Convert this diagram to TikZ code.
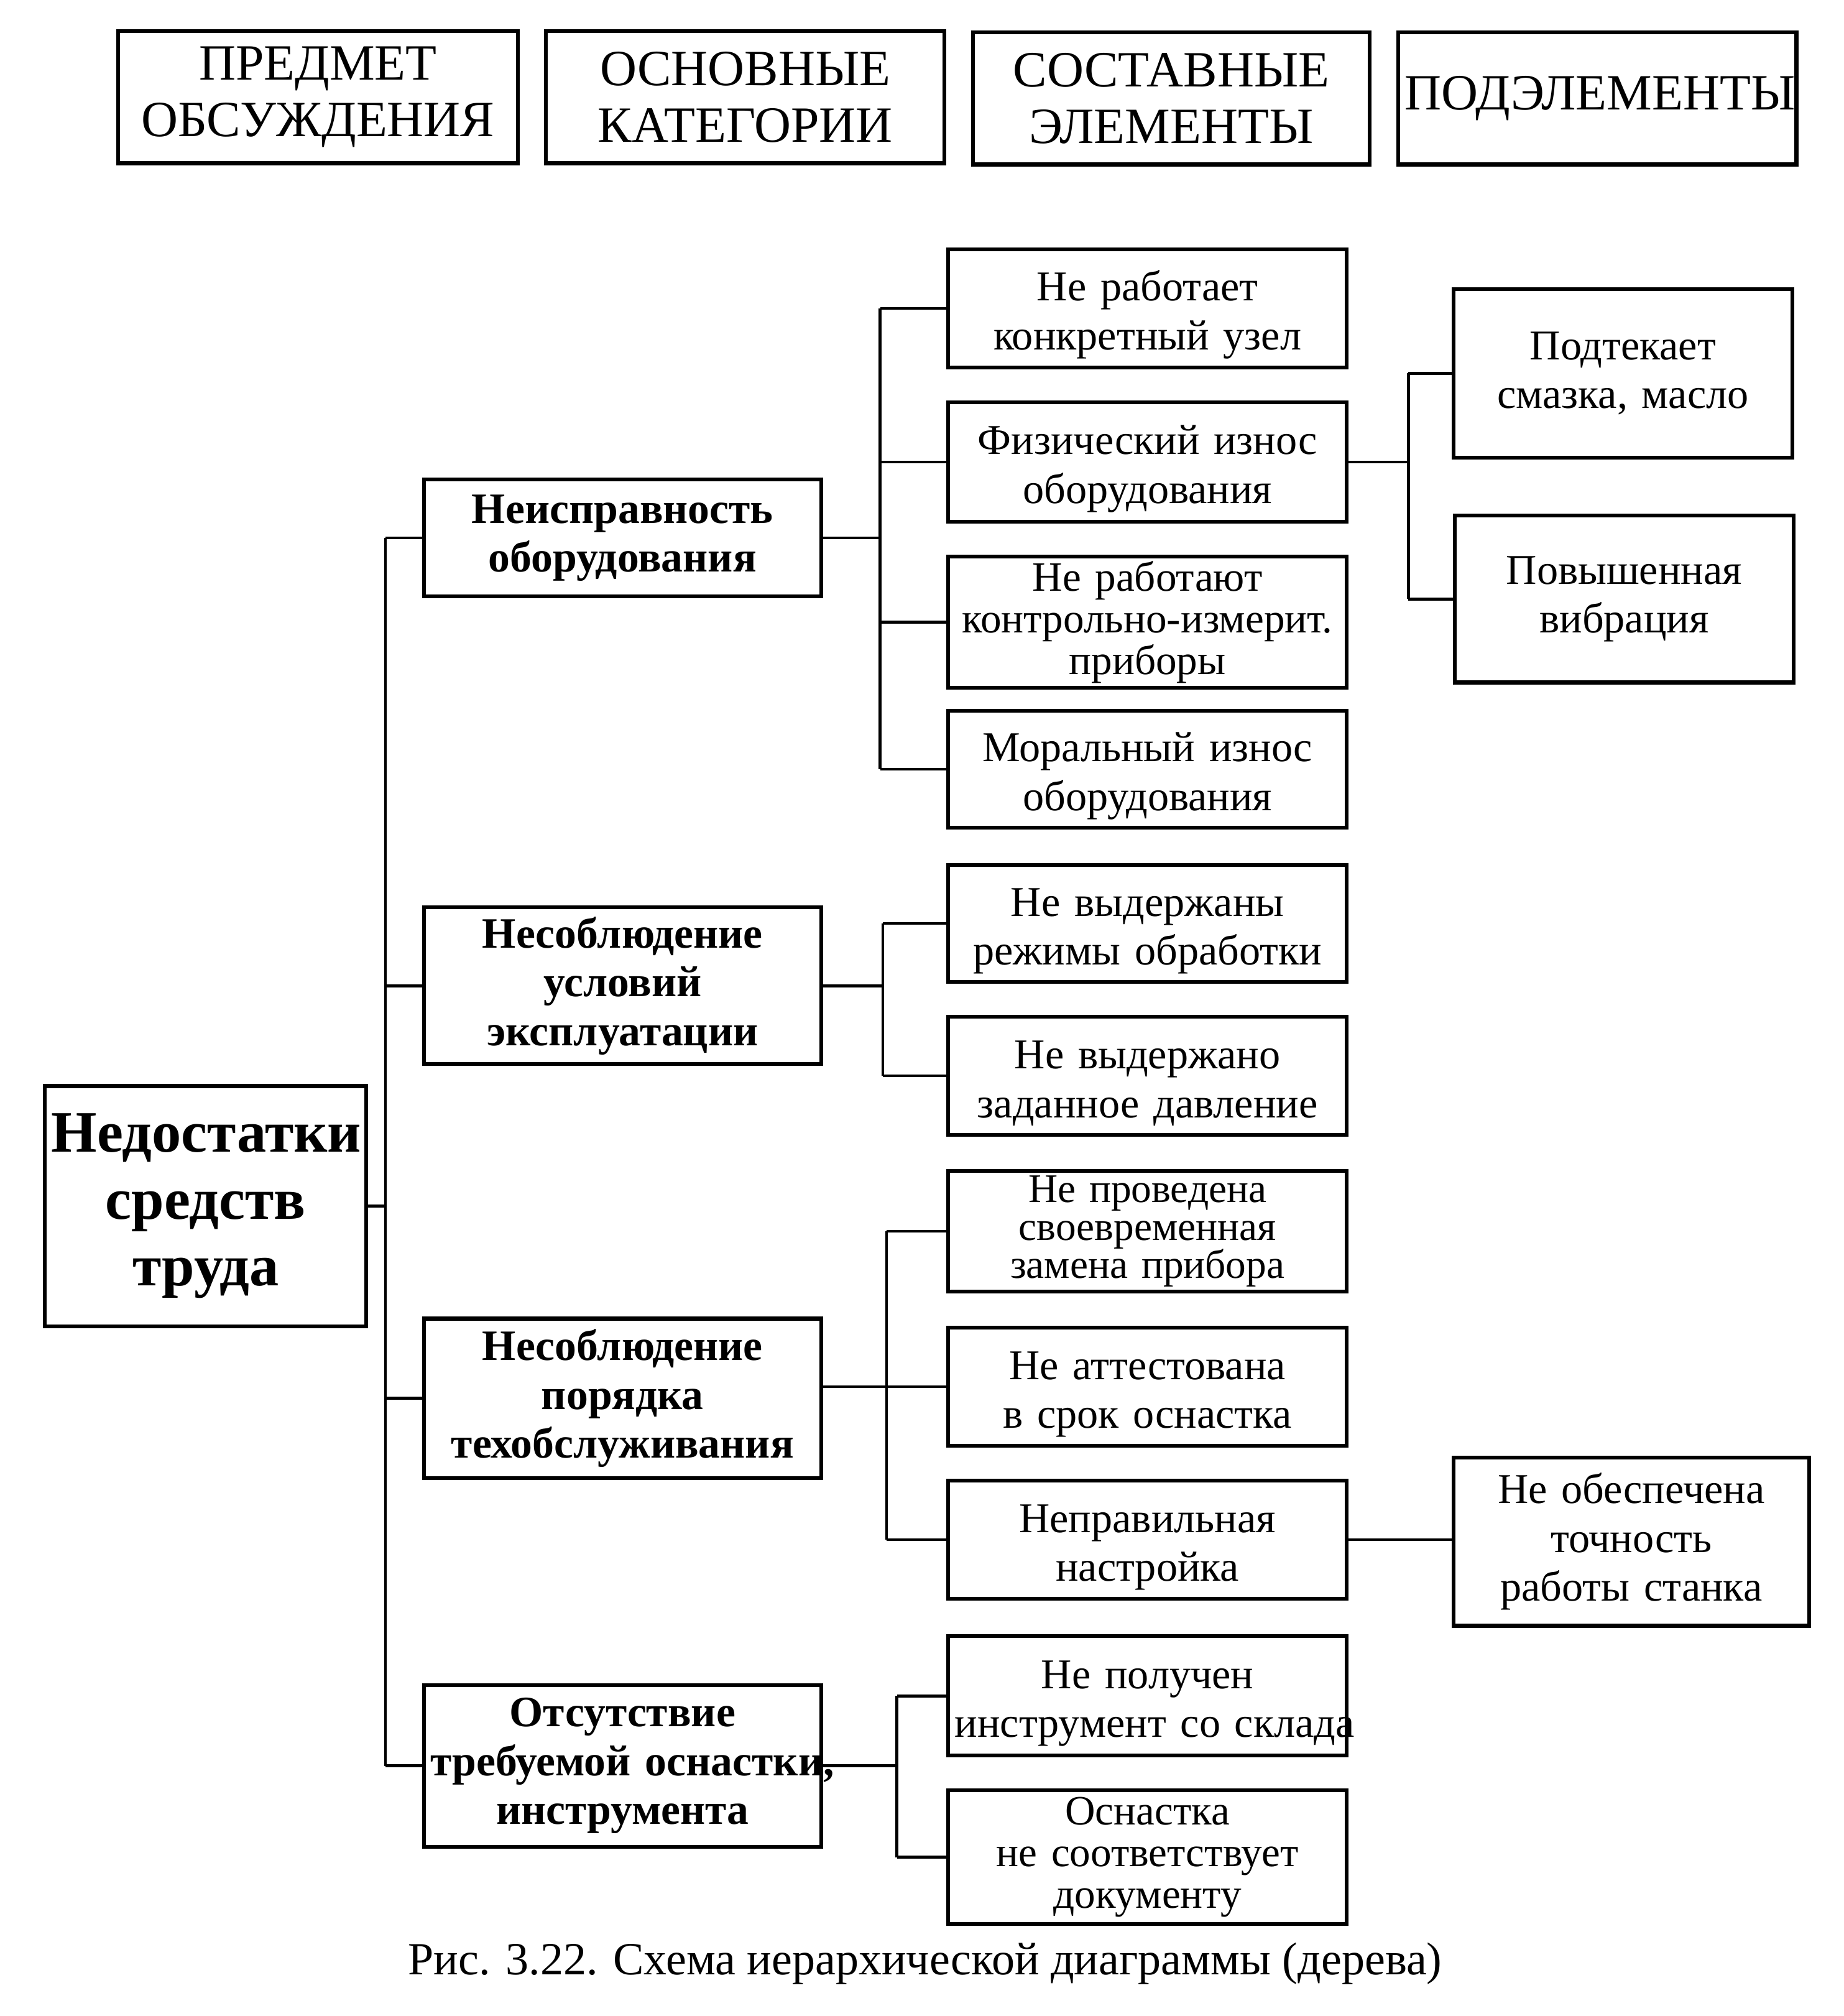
\documentclass[tikz,border=0pt]{standalone}
\usepackage{fontspec}
\setmainfont{Liberation Serif}
\tikzset{
  box/.style={draw, line width=1.7pt, rectangle, align=center, inner xsep=0.1cm, inner ysep=0pt},
  conn/.style={line width=1.3pt},
  hdr/.style={font=\fontsize{22.5}{25}\selectfont},
  elts/.style={font=\fontsize{18.8}{21.6}\selectfont},
  elt/.style={font=\fontsize{18.8}{21.6}\selectfont, execute at begin node={\rule{0pt}{19pt}}},
  eltt/.style={font=\fontsize{18.5}{18.5}\selectfont},
  elttt/.style={font=\fontsize{18}{16.8}\selectfont},
  cat/.style={font=\bfseries\fontsize{19.2}{21.6}\selectfont},
  rt/.style={font=\bfseries\fontsize{26}{29.6}\selectfont},
  capt/.style={font=\fontsize{20.4}{24}\selectfont, inner sep=0pt}
}
\newcommand\mybox[7][]{%
  \node[box,#1,minimum width={(#5-#3)*0.02cm},minimum height={(#6-#4)*0.02cm},
        text width={(#5-#3)*0.02cm-0.2cm}] (#2) at ({(#3+#5)/2},{(#4+#6)/2}) {#7};}
\begin{document}
\begin{tikzpicture}[x=0.02cm,y=-0.02cm]
\useasboundingbox (0,0) rectangle (1435,1568.6);
% headers
\mybox[hdr]{h1}{92}{24}{403}{127}{ПРЕДМЕТ\\ОБСУЖДЕНИЯ}
\mybox[hdr]{h2}{425}{24}{735}{127}{ОСНОВНЫЕ\\КАТЕГОРИИ}
\mybox[hdr]{h3}{757}{25}{1066}{128}{СОСТАВНЫЕ\\ЭЛЕМЕНТЫ}
\mybox[hdr]{h4}{1088}{25}{1398}{128}{\mbox{ПОДЭЛЕМЕНТЫ}}
% root
\mybox[rt]{root}{35}{845}{285}{1032}{\mbox{Недостатки}\\средств\\труда}
% categories
\mybox[cat]{A}{330}{373}{639}{464}{Неисправность\\оборудования}
\mybox[cat]{B}{330}{706}{639}{828}{Несоблюдение\\условий\\эксплуатации}
\mybox[cat]{C}{330}{1026}{639}{1150}{Несоблюдение\\порядка\\техобслуживания}
\mybox[cat]{D}{330}{1311}{639}{1437}{Отсутствие\\\mbox{требуемой оснастки,}\\инструмента}
% elements
\mybox[elt]{A1}{738}{194}{1048}{286}{Не работает\\конкретный узел}
\mybox[elt]{A2}{738}{313}{1048}{406}{Физический износ\\оборудования}
\mybox[eltt]{A3}{738}{433}{1048}{535}{Не работают\\\mbox{контрольно-измерит.}\\приборы}
\mybox[elt]{A4}{738}{553}{1048}{644}{Моральный износ\\оборудования}
\mybox[elt]{B1}{738}{673}{1048}{764}{Не выдержаны\\\mbox{режимы обработки}}
\mybox[elt]{B2}{738}{791}{1048}{883}{Не выдержано\\\mbox{заданное давление}}
\mybox[elttt]{C1}{738}{911}{1048}{1005}{Не проведена\\своевременная\\замена прибора}
\mybox[elt]{C2}{738}{1033}{1048}{1125}{Не аттестована\\в срок оснастка}
\mybox[elt]{C3}{738}{1152}{1048}{1244}{Неправильная\\настройка}
\mybox[elt]{D1}{738}{1273}{1048}{1366}{Не получен\\\mbox{инструмент со склада}}
\mybox[eltt]{D2}{738}{1393}{1048}{1497}{Оснастка\\не соответствует\\документу}
% sub-elements
\mybox[elts]{S1}{1131}{225}{1395}{356}{Подтекает\\смазка, масло}
\mybox[elts]{S2}{1132}{401}{1396}{531}{Повышенная\\вибрация}
\mybox[elts]{S3}{1131}{1134}{1408}{1265}{Не обеспечена\\точность\\работы станка}
% caption
\node[capt] (cap) at (720,1528) {Рис. 3.22. Схема иерархической диаграммы (дерева)};
% bracket columns
\coordinate (tr) at (300,0);
\coordinate (ba) at (685,0);
\coordinate (bb) at (687,0);
\coordinate (bc) at (690,0);
\coordinate (bd) at (698,0);
\coordinate (bs) at (1096,0);
% trunk
\draw[conn] (root.east) -- (root.east -| tr);
\draw[conn] (tr |- A.west) -- (tr |- D.west);
\foreach \n in {A,B,C,D} \draw[conn] (tr |- \n.west) -- (\n.west);
% A
\draw[conn] (A.east) -- (A.east -| ba);
\draw[conn] (ba |- A1.west) -- (ba |- A4.west);
\foreach \n in {A1,A2,A3,A4} \draw[conn] (ba |- \n.west) -- (\n.west);
% B
\draw[conn] (B.east) -- (B.east -| bb);
\draw[conn] (bb |- B1.west) -- (bb |- B2.west);
\foreach \n in {B1,B2} \draw[conn] (bb |- \n.west) -- (\n.west);
% C
\draw[conn] (C.east |- C2.west) -- (C2.west);
\draw[conn] (bc |- C1.west) -- (bc |- C3.west);
\foreach \n in {C1,C3} \draw[conn] (bc |- \n.west) -- (\n.west);
% D
\draw[conn] (D.east) -- (D.east -| bd);
\draw[conn] (bd |- D1.west) -- (bd |- D2.west);
\foreach \n in {D1,D2} \draw[conn] (bd |- \n.west) -- (\n.west);
% S
\draw[conn] (A2.east) -- (A2.east -| bs);
\draw[conn] (bs |- S1.west) -- (bs |- S2.west);
\foreach \n in {S1,S2} \draw[conn] (bs |- \n.west) -- (\n.west);
\draw[conn] (C3.east) -- (S3.west |- C3.east);
\end{tikzpicture}
\end{document}
